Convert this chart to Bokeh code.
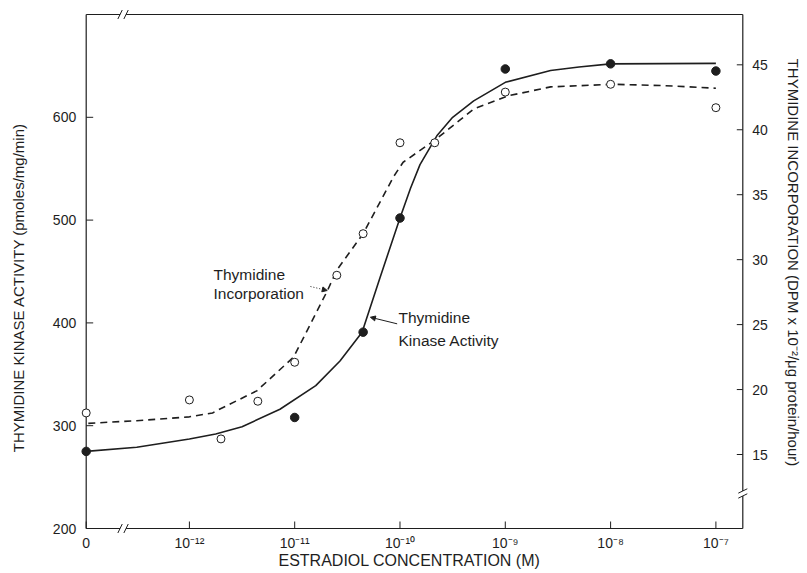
import math
from bokeh.plotting import figure
from bokeh.models import Range1d, Arrow, NormalHead
from bokeh.core.properties import value
from bokeh.embed import file_html
from bokeh.resources import INLINE

# ---------------- data ----------------
# x = log10(estradiol concentration, M); zero concentration is drawn at ZERO_POS
ZERO_POS = -12.98
RIGHT_POS = -6.7445
X_BREAK = -12.63
x_tick_pos = [ZERO_POS, -12, -11, -10, -9, -8, -7]
x_tick_labels = ["0", "10⁻¹²", "10⁻¹¹", "10⁻¹⁰", "10⁻⁹", "10⁻⁸", "10⁻⁷"]
left_ticks = [200, 300, 400, 500, 600]
left_tick_labels = ["200", "300", "400", "500", "600"]
right_ticks = [15, 20, 25, 30, 35, 40, 45]
right_tick_labels = ["15", "20", "25", "30", "35", "40", "45"]
R_BREAK = 12.0

# Thymidine kinase activity (pmoles/mg/min), filled circles, left axis
tk_x = [ZERO_POS, -11.0, -10.35, -10.0, -9.0, -8.0, -7.0]
tk_y = [275, 308, 391, 502, 647, 652, 645]

# Thymidine incorporation, open circles, right axis
inc_x = [ZERO_POS, -12.0, -11.7, -11.35, -11.0, -10.6, -10.35, -10.0, -9.67, -9.0, -8.0, -7.0]
inc_y = [18.2, 19.2, 16.2, 19.1, 22.1, 28.8, 32.0, 39.0, 39.0, 42.9, 43.5, 41.7]

# drawn curves
tk_curve_x = [ZERO_POS, -12.5, -12.0, -11.75, -11.5, -11.14, -10.8, -10.57, -10.36, -10.19,
              -10.0, -9.9, -9.81, -9.65, -9.5, -9.3, -9.0, -8.57, -8.3, -8.0, -7.0]
tk_curve_y = [275, 279, 287, 292, 299, 316, 339, 363, 391, 444,
              502, 531, 554, 582, 600, 616, 634, 645.5, 649, 652, 652.5]
inc_curve_x = [-12.96, -12.5, -12.0, -11.78, -11.71, -11.36, -11.01, -10.69, -10.6, -10.35,
               -10.06, -9.97, -9.67, -9.3, -8.98, -8.57, -7.98, -7.5, -7.0]
inc_curve_y = [17.4, 17.6, 17.9, 18.2, 18.5, 19.9, 22.5, 27.6, 29.2, 32.0,
               36.4, 37.5, 39.2, 41.6, 42.6, 43.3, 43.5, 43.4, 43.2]

# ---------------- scales ----------------
W, H = 807, 573
Y_LO, Y_HI = 200, 700
PPX = 105.3          # pixels per decade
PPY = 1.028          # pixels per left unit
PX_X = 1 / PPX
PX_Y = 1 / PPY
R_PER_L = 0.07914    # right units per left unit
R_AT_200 = 9.3033


def to_right(v):
    return R_AT_200 + (v - 200) * R_PER_L


PX_R = PX_Y * R_PER_L

x0 = ZERO_POS - 85.7 / PPX
x1 = x0 + W / PPX
y1 = Y_HI + 14 / PPY
y0 = y1 - H / PPY

INK = "#1e1e1e"
FONT = "Liberation Sans"

p = figure(width=W, height=H, x_range=Range1d(x0, x1), y_range=Range1d(y0, y1),
           x_axis_type=None, y_axis_type=None, title=None,
           output_backend="svg", toolbar_location=None, min_border=0)
p.extra_y_ranges = {"inc": Range1d(to_right(y0), to_right(y1))}
p.outline_line_color = None
p.background_fill_color = "white"
p.border_fill_color = "white"

# frame lines with breaks
g = 3 * PX_X
p.segment(x0=[ZERO_POS, X_BREAK + g, ZERO_POS, X_BREAK + g, ZERO_POS],
          y0=[Y_LO, Y_LO, Y_HI, Y_HI, Y_LO],
          x1=[X_BREAK - g, RIGHT_POS, X_BREAK - g, RIGHT_POS, ZERO_POS],
          y1=[Y_LO, Y_LO, Y_HI, Y_HI, Y_HI],
          line_color=INK, line_width=1.2)
gr = 2.5 * PX_R
p.segment(x0=[RIGHT_POS, RIGHT_POS], x1=[RIGHT_POS, RIGHT_POS],
          y0=[to_right(Y_LO), R_BREAK + gr], y1=[R_BREAK - gr, to_right(Y_HI)],
          line_color=INK, line_width=1.2, y_range_name="inc")
# break marks
sx, sy = 2.2 * PX_X, 4.5 * PX_Y
bx = [X_BREAK - g, X_BREAK + g]
p.segment(x0=[b - sx for b in bx] * 2, x1=[b + sx for b in bx] * 2,
          y0=[Y_LO - sy] * 2 + [Y_HI - sy] * 2, y1=[Y_LO + sy] * 2 + [Y_HI + sy] * 2,
          line_color=INK, line_width=1)
rx, ry = 4.5 * PX_X, 2.2 * PX_R
p.segment(x0=[RIGHT_POS - rx] * 2, x1=[RIGHT_POS + rx] * 2,
          y0=[R_BREAK - gr - ry, R_BREAK + gr - ry], y1=[R_BREAK - gr + ry, R_BREAK + gr + ry],
          line_color=INK, line_width=1, y_range_name="inc")

# tick marks (inward)
TICK = 7
p.segment(x0=x_tick_pos, x1=x_tick_pos, y0=[Y_LO] * len(x_tick_pos),
          y1=[Y_LO + TICK * PX_Y] * len(x_tick_pos), line_color=INK, line_width=1)
p.segment(x0=[ZERO_POS] * len(left_ticks), x1=[ZERO_POS + TICK * PX_X] * len(left_ticks),
          y0=left_ticks, y1=left_ticks, line_color=INK, line_width=1)
p.segment(x0=[RIGHT_POS] * len(right_ticks), x1=[RIGHT_POS - 6 * PX_X] * len(right_ticks),
          y0=right_ticks, y1=right_ticks, line_color=INK, line_width=1, y_range_name="inc")

# tick labels
p.text(x=x_tick_pos, y=[Y_LO - 14 * PX_Y] * len(x_tick_pos), text=x_tick_labels,
       text_font=value(FONT), text_font_size=value("14px"), text_color=INK,
       text_align=value("center"), text_baseline=value("middle"))
p.text(x=[ZERO_POS - 10 * PX_X] * len(left_ticks), y=left_ticks, text=left_tick_labels,
       text_font=value(FONT), text_font_size=value("14px"), text_color=INK,
       text_align=value("right"), text_baseline=value("middle"))
p.text(x=[RIGHT_POS + 9.5 * PX_X] * len(right_ticks), y=right_ticks, text=right_tick_labels,
       text_font=value(FONT), text_font_size=value("14px"), text_color=INK,
       text_align=value("left"), text_baseline=value("middle"), y_range_name="inc")

# curves
p.line(tk_curve_x, tk_curve_y, line_color=INK, line_width=1.6, line_join="round")
p.line(inc_curve_x, inc_curve_y, line_color=INK, line_width=1.6, line_dash="7 5",
       y_range_name="inc")

# points
p.scatter(tk_x, tk_y, size=8.5, marker="circle", fill_color=INK, line_color=INK)
p.scatter(inc_x, inc_y, size=8, marker="circle", fill_color="white", line_color=INK,
          line_width=1, y_range_name="inc")


def txt(x, y, t, size, align="left", angle=0.0):
    p.text(x=[x], y=[y], text=[t], angle=angle, text_font=value(FONT),
           text_font_size=value(size), text_color=INK,
           text_align=value(align), text_baseline=value("middle"))


# in-plot labels
txt(-11.771, 447.4, "Thymidine", "15.5px")
txt(-11.771, 428.9, "Incorporation", "15.5px")
txt(-10.014, 405.5, "Thymidine", "15.5px")
txt(-10.014, 382.9, "Kinase Activity", "15.5px")

p.add_layout(Arrow(end=NormalHead(size=5, fill_color=INK, line_color=INK),
                   x_start=-10.85, y_start=435.4, x_end=-10.691, y_end=431.5,
                   line_color=INK, line_width=1, line_dash="1 2"))
p.add_layout(Arrow(end=NormalHead(size=5, fill_color=INK, line_color=INK),
                   x_start=-10.027, y_start=399.1, x_end=-10.281, y_end=405.5,
                   line_color=INK, line_width=1))

# axis titles
txt(-9.91, 168.9, "ESTRADIOL CONCENTRATION (M)", "16px", align="center")
txt(-13.62, 434.4, "THYMIDINE KINASE ACTIVITY (pmoles/mg/min)", "15px",
    align="center", angle=math.pi / 2)
txt(-6.263, 458.8, "THYMIDINE INCORPORATION (DPM x 10⁻²/μg protein/hour)", "15px",
    align="center", angle=-math.pi / 2)

open("out.html", "w").write(file_html(p, INLINE))
